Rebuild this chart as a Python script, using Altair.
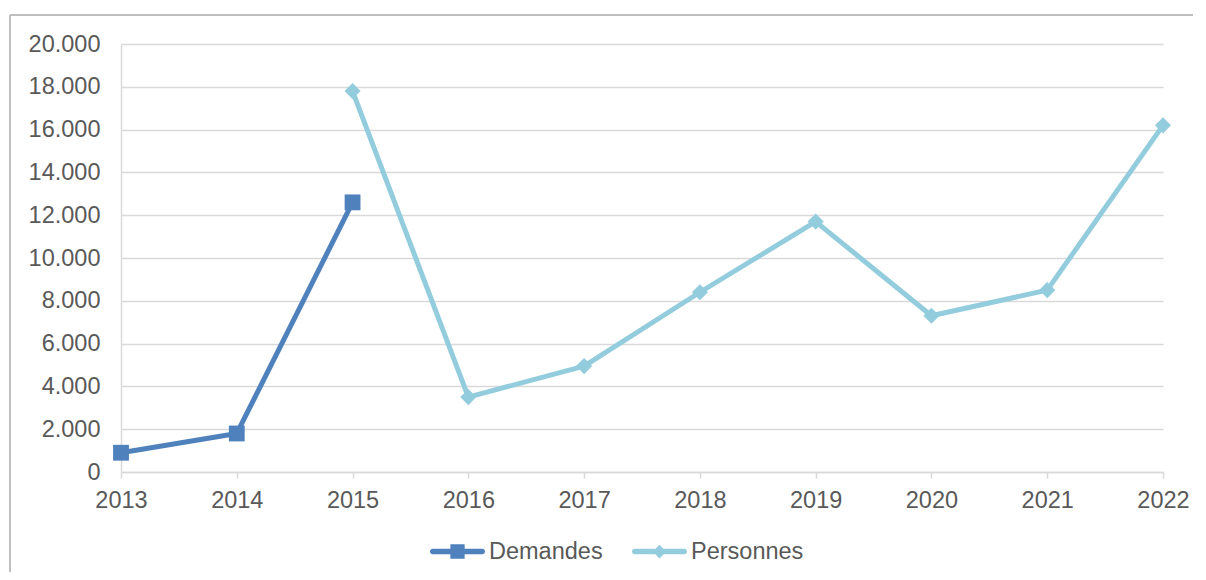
import altair as alt
import pandas as pd

years = ["2013", "2014", "2015", "2016", "2017", "2018", "2019", "2020", "2021", "2022"]
demandes = [900, 1800, 12600, None, None, None, None, None, None, None]
personnes = [None, None, 17800, 3500, 4950, 8400, 11700, 7300, 8500, 16200]
series_names = ["Demandes", "Personnes"]
series_colors = ["#4F81BD", "#93CDDD"]
y_ticks = [0, 2000, 4000, 6000, 8000, 10000, 12000, 14000, 16000, 18000, 20000]

rows = []
for name, vals in zip(series_names, [demandes, personnes]):
    for yr, v in zip(years, vals):
        if v is not None:
            rows.append({"year": yr, "series": name, "value": v})
df = pd.DataFrame(rows)

FONT = "Liberation Sans"
TXT = "#595959"
GRID = "#d9d9d9"

color_scale = alt.Scale(domain=series_names, range=series_colors)

x_enc = alt.X("year:O", scale=alt.Scale(type="point", padding=0, domain=years),
              axis=alt.Axis(title=None, labelAngle=0, grid=False, domain=True,
                            domainColor=GRID, domainWidth=1.5, ticks=True,
                            tickColor=GRID, tickWidth=1.5, tickSize=6,
                            labelPadding=10, labelFontSize=23.5, labelColor=TXT,
                            labelFont=FONT))
y_enc = alt.Y("value:Q", scale=alt.Scale(domain=[0, 20000], nice=False),
              axis=alt.Axis(title=None, values=y_ticks, grid=True, gridColor=GRID,
                            gridWidth=1.5, domain=True, domainColor=GRID,
                            domainWidth=1.5, ticks=False, labelPadding=21,
                            labelFontSize=23.5, labelColor=TXT, labelFont=FONT,
                            labelExpr="replace(format(datum.value, ','), ',', '.')"))

base = alt.Chart(df)

bar_path = "M-0.9,-0.1H0.9A0.1,0.1 0 0 1 0.9,0.1H-0.9A0.1,0.1 0 0 1 -0.9,-0.1Z"
path_sq = bar_path + " M-0.26,-0.26H0.26V0.26H-0.26Z"
path_dm = bar_path + " M0,-0.25L0.25,0L0,0.25L-0.25,0Z"

leg_props = dict(title=None, orient="none", direction="horizontal",
                 legendX=309, legendY=480, padding=0,
                 symbolSize=3025, symbolStrokeWidth=0, symbolOpacity=1,
                 labelFontSize=23.5, labelColor=TXT, labelFont=FONT,
                 labelOffset=4, columnPadding=29)

# legend-only layer (no visible marks), placed first so its legend settings win
leg = base.transform_filter(alt.datum.value < 0).mark_point(
    filled=True, size=3025, opacity=1).encode(
    x=x_enc, y=y_enc,
    color=alt.Color("series:N", scale=color_scale, legend=alt.Legend(**leg_props)),
    shape=alt.Shape("series:N", scale=alt.Scale(domain=series_names, range=[path_sq, path_dm]),
                    legend=alt.Legend(**leg_props)),
)

border_top = alt.Chart(df).mark_rule(stroke="#bfbfbf", strokeWidth=1.5).encode(
    x=alt.value(-111), x2=alt.value(1072), y=alt.value(-29))
border_left = alt.Chart(df).mark_rule(stroke="#bfbfbf", strokeWidth=1.5).encode(
    x=alt.value(-111), y=alt.value(-29), y2=alt.value(528))

lines = base.mark_line(strokeWidth=5, strokeJoin="round").encode(
    x=x_enc, y=y_enc,
    color=alt.Color("series:N", scale=color_scale),
    detail="series:N",
)

sq = base.transform_filter(alt.datum.series == "Demandes").mark_point(
    shape="square", filled=True, size=250, opacity=1).encode(
    x=x_enc, y=y_enc, color=alt.Color("series:N", scale=color_scale))

dm = base.transform_filter(alt.datum.series == "Personnes").mark_point(
    shape="diamond", filled=True, size=260, opacity=1).encode(
    x=x_enc, y=y_enc, color=alt.Color("series:N", scale=color_scale))

chart = alt.layer(leg, border_top, border_left, lines, sq, dm).properties(
    width=1042, height=428,
    autosize=alt.AutoSizeParams(type="none"),
    padding={"left": 113, "top": 36, "right": 35, "bottom": 100},
    background="white",
).configure_view(stroke=None)

chart.save("out.html", embed_options={"renderer": "svg", "actions": False})
